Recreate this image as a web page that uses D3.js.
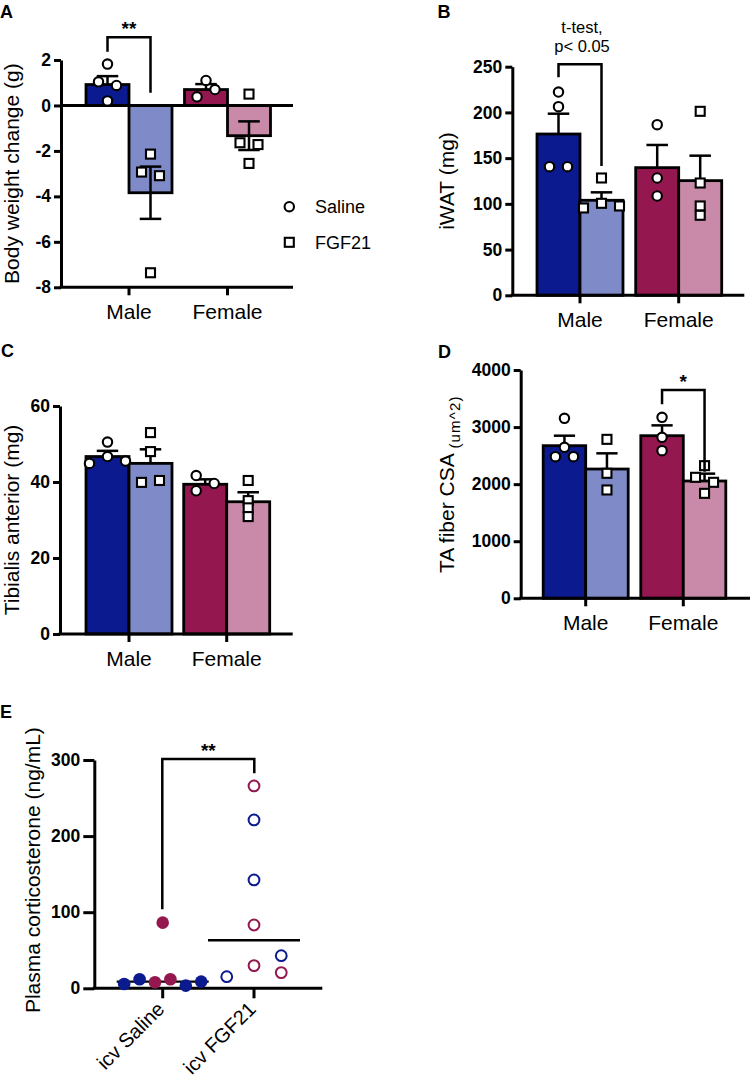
<!DOCTYPE html>
<html>
<head>
<meta charset="utf-8">
<script src="https://cdn.jsdelivr.net/npm/d3@7"></script>
<style>
  html, body { margin: 0; padding: 0; background: #fff; }
  text { font-family: "Liberation Sans", Arial, sans-serif; fill: #000; }
</style>
</head>
<body>
<script>
// ---------------- DATA ----------------
const sexes = ["Male", "Female"];
const treatments = ["Saline", "FGF21"];

// Panel A: Body weight change (g)
const bwMeans = [0.92, -3.84, 0.70, -1.33];
const bwSems = [0.37, 1.15, 0.24, 0.63];
const bwPoints = [[1.82, 1.04, 0.88, 0.2], [-2.14, -2.93, -3.09, -7.36], [1.1, 0.38, 0.70], [0.5, -1.64, -1.72, -2.55]];
const bwSlots = [[0, -1, 1, 0], [0, -1, 1, 0], [0, -1, 1], [0, -1, 1, 0]];
const bwTicks = [2, 0, -2, -4, -6, -8];

// Panel B: iWAT (mg)
const iwatMeans = [176.4, 103.9, 139.6, 125.4];
const iwatSems = [22.2, 8.7, 24.8, 27.3];
const iwatPoints = [[222.3, 206.3, 140.7, 140.7], [128.3, 95.5, 100.6, 97.7], [186.6, 128.3, 108.6], [201.2, 122.8, 97.7, 87.5]];
const iwatSlots = [[0, 0, -1, 1], [0, -2, 0, 2], [0, 0, 0], [0, 0, 0, 0]];
const iwatTicks = [0, 50, 100, 150, 200, 250];

// Panel C: Tibialis anterior (mg)
const taMeans = [46.7, 44.9, 39.4, 34.8];
const taSems = [1.5, 3.7, 1.3, 2.5];
const taPoints = [[50.5, 46.7, 44.9, 45.5], [53.0, 48.0, 39.9, 40.4], [41.7, 37.7, 39.6], [40.4, 35.1, 33.2, 30.9]];
const taSlots = [[0, 0, -2, 2], [0, 0, -1, 1], [-1, -1, 1], [0, 0, 0, 0]];
const taTicks = [0, 20, 40, 60];

// Panel D: TA fiber CSA (um^2)
const csaMeans = [2674, 2265, 2849, 2055];
const csaSems = [175, 275, 181, 129];
const csaPoints = [[3153, 2645, 2482, 2482], [2785, 2190, 1898], [3171, 2820, 2587], [2324, 2120, 2032, 1839]];
const csaSlots = [[0, 0, -1, 1], [0, 0, 0], [0, 0, 0], [0, -1, 1, 0]];
const csaTicks = [0, 1000, 2000, 3000, 4000];

// Panel E: Plasma corticosterone (ng/mL)
const icvGroups = ["icv Saline", "icv FGF21"];
const corSalineValues = [5.7, 11.8, 7.9, 11.8, 3.5, 8.8, 86.3];
const corSalineSex = ["Male", "Male", "Female", "Female", "Male", "Male", "Female"];
const corSalineSlots = [-2.5, -1.5, -0.5, 0.5, 1.5, 2.5, 0];
const corFgfValues = [265.9, 221.2, 142.4, 83.2, 42.9, 29.8, 20.6, 15.3];
const corFgfSex = ["Female", "Male", "Male", "Female", "Male", "Female", "Female", "Male"];
const corFgfSlots = [0, 0, 0, 0, 1.77, 0, 1.77, -1.77];
const corTicks = [0, 100, 200, 300];

// ---------------- STYLE ----------------
const barColors = { "Male-Saline": "#0b1a8e", "Male-FGF21": "#7f8bc8", "Female-Saline": "#94174f", "Female-FGF21": "#c98aa9" };
const sexColors = { "Male": "#0b1a8e", "Female": "#94174f" };
const FONT = '"Liberation Sans", Arial, sans-serif';

const svg = d3.select("body").append("svg").attr("width", 750).attr("height", 1082);

function panelLetter(t, x, y) {
  svg.append("text").attr("x", x).attr("y", y).attr("font-size", 18).attr("font-weight", 700).text(t);
}

function marker(g, shape, cx, cy) {
  if (shape === "circle") {
    g.append("circle").attr("cx", cx).attr("cy", cy).attr("r", 4.7)
      .attr("fill", "#fff").attr("stroke", "#000").attr("stroke-width", 2.1);
  } else {
    g.append("rect").attr("x", cx - 4.5).attr("y", cy - 4.5).attr("width", 9).attr("height", 9)
      .attr("fill", "#fff").attr("stroke", "#000").attr("stroke-width", 2.1);
  }
}

function barPanel(cfg) {
  const g = svg.append("g");
  const y = d3.scaleLinear().domain(cfg.domain).range(cfg.range);
  const gx = d3.scalePoint().domain(sexes).range([cfg.x0 + cfg.c0, cfg.x0 + cfg.c1]);
  const inner = d3.scaleBand().domain(treatments).range([-cfg.bw, cfg.bw]).padding(0);
  const baseY = cfg.baseY !== undefined ? y(cfg.baseY) : y(0);

  const items = [];
  sexes.forEach((s, si) => treatments.forEach((t, ti) => {
    const k = si * 2 + ti;
    items.push({ s, t, mean: cfg.means[k], sem: cfg.sems[k], pts: cfg.points[k], slots: cfg.slots[k] });
  }));
  // bars
  items.forEach(d => {
    const x = gx(d.s) + inner(d.t);
    const w = inner.bandwidth();
    const y0 = y(0), y1 = y(d.mean);
    g.append("rect").attr("x", x).attr("y", Math.min(y0, y1)).attr("width", w).attr("height", Math.abs(y1 - y0))
      .attr("fill", barColors[d.s + "-" + d.t]).attr("stroke", "#000").attr("stroke-width", 2.8);
  });
  // error bars (SEM)
  items.forEach(d => {
    const cx = gx(d.s) + inner(d.t) + inner.bandwidth() / 2;
    const capW = inner.bandwidth() / 2;
    const ends = d.mean >= 0 ? [d.mean, d.mean + d.sem] : [d.mean + d.sem, d.mean - d.sem];
    g.append("line").attr("x1", cx).attr("x2", cx).attr("y1", y(ends[0])).attr("y2", y(ends[1]))
      .attr("stroke", "#000").attr("stroke-width", 2.5);
    const caps = d.mean >= 0 ? [ends[1]] : ends;
    caps.forEach(v => g.append("line").attr("x1", cx - capW / 2).attr("x2", cx + capW / 2)
      .attr("y1", y(v)).attr("y2", y(v)).attr("stroke", "#000").attr("stroke-width", 2.5));
  });
  // y axis
  const yAxis = d3.axisLeft(y).tickValues(cfg.ticks).tickSize(7).tickPadding(3).tickSizeOuter(0)
    .tickFormat(d3.format("d"));
  const ya = g.append("g").attr("transform", `translate(${cfg.x0},0)`).call(yAxis);
  ya.select(".domain").attr("stroke", "#000").attr("stroke-width", 3);
  ya.selectAll(".tick line").attr("stroke", "#000").attr("stroke-width", 3);
  ya.selectAll(".tick text").attr("font-family", FONT).attr("font-size", 17.5).attr("font-weight", 700).attr("fill", "#000")
    .text(d => d < 0 ? "-" + Math.abs(d) : d);

  // bottom axis
  g.append("line").attr("x1", cfg.x0 - 1.5).attr("x2", cfg.x1).attr("y1", baseY).attr("y2", baseY)
    .attr("stroke", "#000").attr("stroke-width", 3);
  if (cfg.baseY !== undefined) {
    g.append("line").attr("x1", cfg.x0).attr("x2", cfg.x1).attr("y1", y(0)).attr("y2", y(0))
      .attr("stroke", "#000").attr("stroke-width", 3);
  }
  sexes.forEach(s => {
    g.append("line").attr("x1", gx(s)).attr("x2", gx(s)).attr("y1", baseY).attr("y2", baseY + 8)
      .attr("stroke", "#000").attr("stroke-width", 3);
    g.append("text").attr("x", gx(s)).attr("y", baseY + 32).attr("text-anchor", "middle")
      .attr("font-size", 21).text(s);
  });

  // points
  items.forEach(d => {
    const cx = gx(d.s) + inner(d.t) + inner.bandwidth() / 2;
    d.pts.forEach((v, i) => marker(g, d.t === "Saline" ? "circle" : "square", cx + d.slots[i] * cfg.slot, y(v)));
  });

  // y title
  const yt = g.append("text").attr("transform", `translate(${cfg.titleX},${(cfg.range[0] + cfg.range[1]) / 2}) rotate(-90)`)
    .attr("text-anchor", "middle").attr("font-size", 21);
  yt.append("tspan").text(cfg.title);
  if (cfg.titleSmall) {
    yt.append("tspan").attr("font-size", 15).attr("dy", 6).attr("letter-spacing", 1.2).text(cfg.titleSmall);
  }
  return { g, y, gx, inner };
}

function bracket(x1, x2, yTop, y1, y2) {
  svg.append("path").attr("d", `M${x1},${y1}V${yTop}H${x2}V${y2}`)
    .attr("fill", "none").attr("stroke", "#000").attr("stroke-width", 2.5);
}

// ---------------- PANEL A ----------------
panelLetter("A", 0, 18);
const pA = barPanel({
  x0: 61, x1: 293, domain: [-8, 2], range: [287.3, 60], baseY: -8, c0: 68, c1: 166.5, bw: 43, slot: 9,
  means: bwMeans, sems: bwSems, points: bwPoints, slots: bwSlots, ticks: bwTicks,
  title: "Body weight change (g)", titleX: 18.5
});
{
  const xl = pA.gx("Male") + pA.inner("Saline") + pA.inner.bandwidth() / 2;
  const xr = pA.gx("Male") + pA.inner("FGF21") + pA.inner.bandwidth() / 2;
  bracket(xl, xr, 37.3, 51.7, 92.7);
  svg.append("text").attr("x", (xl + xr) / 2).attr("y", 35).attr("text-anchor", "middle")
    .attr("font-size", 19).attr("font-weight", 700).text("**");
}
// legend
{
  const lg = svg.append("g");
  marker(lg, "circle", 289.3, 206.7);
  marker(lg, "square", 289.3, 242.3);
  lg.append("text").attr("x", 315).attr("y", 213.2).attr("font-size", 18).text("Saline");
  lg.append("text").attr("x", 315).attr("y", 248.8).attr("font-size", 18).text("FGF21");
}

// ---------------- PANEL B ----------------
panelLetter("B", 437.5, 18);
const pB = barPanel({
  x0: 512.3, x1: 744.3, domain: [0, 250], range: [295.3, 66.7], c0: 67.7, c1: 166.4, bw: 43, slot: 9,
  means: iwatMeans, sems: iwatSems, points: iwatPoints, slots: iwatSlots, ticks: iwatTicks,
  title: "iWAT (mg)", titleX: 454
});
{
  const xl = pB.gx("Male") + pB.inner("Saline") + pB.inner.bandwidth() / 2;
  const xr = pB.gx("Male") + pB.inner("FGF21") + pB.inner.bandwidth() / 2;
  bracket(xl, xr, 64.3, 77.3, 166);
  svg.append("text").attr("x", (xl + xr) / 2 + 2).attr("y", 33).attr("text-anchor", "middle").attr("font-size", 16.5).text("t-test,");
  svg.append("text").attr("x", (xl + xr) / 2 + 2).attr("y", 52).attr("text-anchor", "middle").attr("font-size", 16.5).text("p< 0.05");
}

// ---------------- PANEL C ----------------
panelLetter("C", 1, 357);
barPanel({
  x0: 60, x1: 292.7, domain: [0, 60], range: [634, 406], c0: 69, c1: 166.7, bw: 43, slot: 9,
  means: taMeans, sems: taSems, points: taPoints, slots: taSlots, ticks: taTicks,
  title: "Tibialis anterior (mg)", titleX: 18.5
});

// ---------------- PANEL D ----------------
panelLetter("D", 438, 358);
const pD = barPanel({
  x0: 520.7, x1: 752, domain: [0, 4000], range: [598.3, 370], c0: 65, c1: 162.6, bw: 42.5, slot: 9,
  means: csaMeans, sems: csaSems, points: csaPoints, slots: csaSlots, ticks: csaTicks,
  title: "TA fiber CSA ", titleSmall: "(um^2)", titleX: 453.5
});
{
  const xl = pD.gx("Female") + pD.inner("Saline") + pD.inner.bandwidth() / 2;
  const xr = pD.gx("Female") + pD.inner("FGF21") + pD.inner.bandwidth() / 2;
  bracket(xl, xr, 390, 404.3, 471.7);
  svg.append("text").attr("x", (xl + xr) / 2).attr("y", 388).attr("text-anchor", "middle")
    .attr("font-size", 19).attr("font-weight", 700).text("*");
}

// ---------------- PANEL E ----------------
panelLetter("E", 0, 718);
{
  const g = svg.append("g");
  const x0 = 94.3, x1 = 322.3;
  const y = d3.scaleLinear().domain([0, 300]).range([988.3, 760]);
  const x = d3.scalePoint().domain(icvGroups).range([162.7, 254]);
  const slot = 15.4;

  // median lines
  [[icvGroups[0], corSalineValues], [icvGroups[1], corFgfValues]].forEach(([grp, vals]) => {
    const m = d3.median(vals);
    g.append("line").attr("x1", x(grp) - 46).attr("x2", x(grp) + 46).attr("y1", y(m)).attr("y2", y(m))
      .attr("stroke", "#000").attr("stroke-width", 2.4);
  });

  const ya = g.append("g").attr("transform", `translate(${x0},0)`)
    .call(d3.axisLeft(y).tickValues(corTicks).tickSize(11).tickPadding(3).tickSizeOuter(0));
  ya.select(".domain").attr("stroke", "#000").attr("stroke-width", 3);
  ya.selectAll(".tick line").attr("stroke", "#000").attr("stroke-width", 3);
  ya.selectAll(".tick text").attr("font-family", FONT).attr("font-size", 17.5).attr("font-weight", 700).attr("fill", "#000");

  g.append("line").attr("x1", x0 - 1.5).attr("x2", x1).attr("y1", y(0)).attr("y2", y(0))
    .attr("stroke", "#000").attr("stroke-width", 3);
  icvGroups.forEach(grp => {
    g.append("line").attr("x1", x(grp)).attr("x2", x(grp)).attr("y1", y(0)).attr("y2", y(0) + 10)
      .attr("stroke", "#000").attr("stroke-width", 3);
    g.append("text").attr("transform", `translate(${x(grp) + 3},${y(0) + 22}) rotate(-45)`)
      .attr("text-anchor", "end").attr("font-size", 20).text(grp);
  });

  corSalineValues.forEach((v, i) => {
    g.append("circle").attr("cx", x(icvGroups[0]) + corSalineSlots[i] * slot).attr("cy", y(v)).attr("r", 6.3)
      .attr("fill", sexColors[corSalineSex[i]]);
  });
  corFgfValues.forEach((v, i) => {
    g.append("circle").attr("cx", x(icvGroups[1]) + corFgfSlots[i] * slot).attr("cy", y(v)).attr("r", 5.4)
      .attr("fill", "none").attr("stroke", sexColors[corFgfSex[i]]).attr("stroke-width", 2);
  });

  bracket(x(icvGroups[0]) - 0.4, x(icvGroups[1]) + 0.3, 759, 909.3, 773.3);
  g.append("text").attr("x", (x(icvGroups[0]) + x(icvGroups[1])) / 2).attr("y", 757).attr("text-anchor", "middle")
    .attr("font-size", 19).attr("font-weight", 700).text("**");

  g.append("text").attr("transform", `translate(40,${(988.3 + 760) / 2 - 4}) rotate(-90)`)
    .attr("text-anchor", "middle").attr("font-size", 21).text("Plasma corticosterone (ng/mL)");
}
</script>
</body>
</html>
